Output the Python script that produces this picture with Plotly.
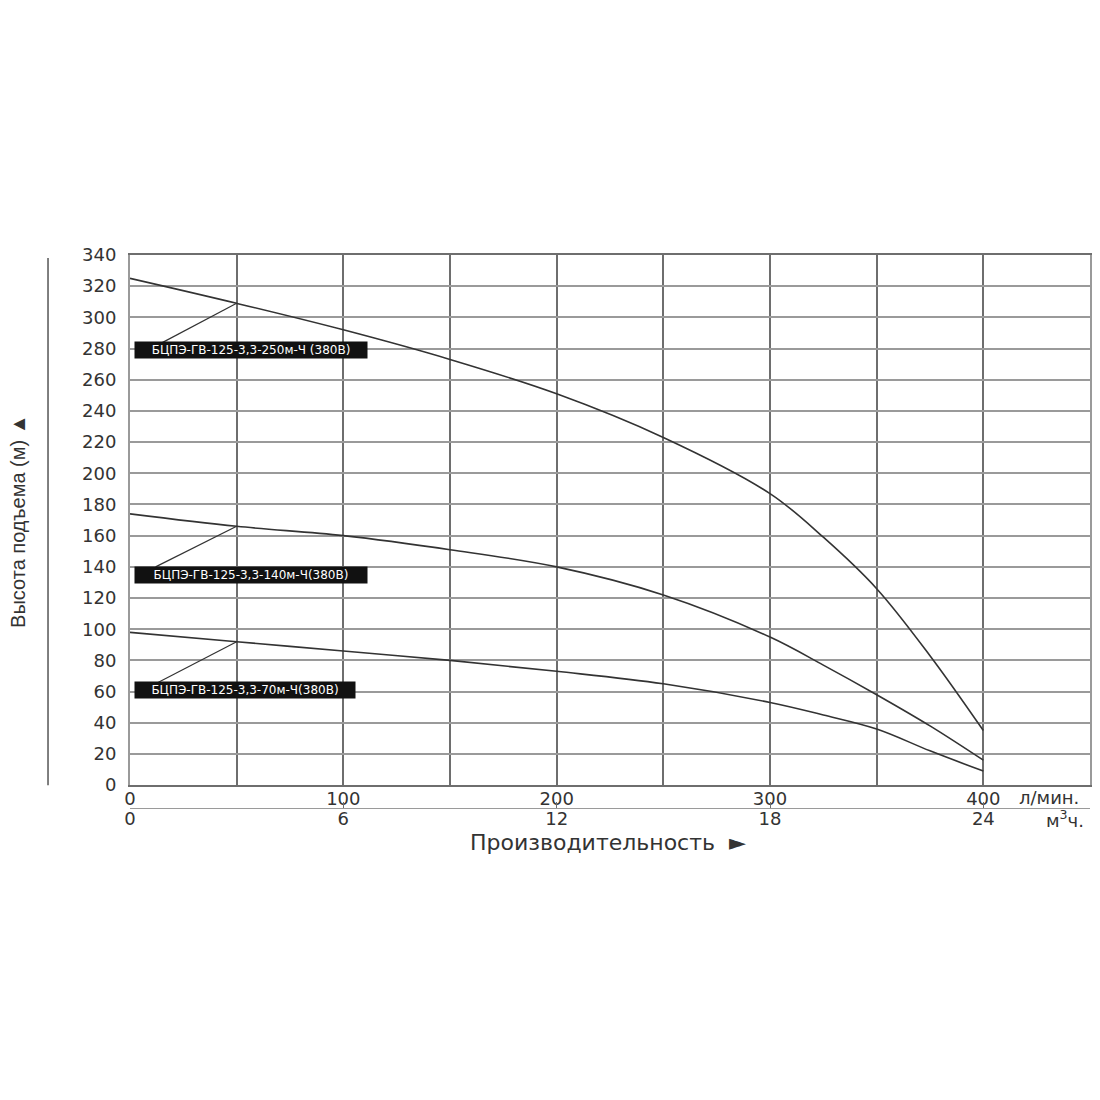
import plotly.graph_objects as go

# flow, l/min
flow = [0, 50, 100, 150, 200, 250, 300, 325, 350, 375, 400]

# head, m
head_250 = [325, 309, 292, 273, 251, 223, 187, 159, 126, 83, 35]
head_140 = [174, 166, 160, 151, 140, 122, 95, 77, 58, 38, 16]
head_70 = [98, 92, 86, 80, 73, 65, 53, 45, 36, 22, 9]

series = [
    ("БЦПЭ-ГВ-125-3,3-250м-Ч (380В)", head_250),
    ("БЦПЭ-ГВ-125-3,3-140м-Ч(380В)", head_140),
    ("БЦПЭ-ГВ-125-3,3-70м-Ч(380В)", head_70),
]

# label boxes: leader start (x, y), box left edge and centre height, box width px
leader_x = [14, 12, 12]
leader_y = [283, 140, 65]
box_x = [2, 2, 2]
box_y = [279, 135, 61]
box_w = [228, 228, 216]

lpm_ticks = [0, 100, 200, 300, 400]
m3h_ticks = [0, 6, 12, 18, 24]

FONT = "DejaVu Sans, Liberation Sans, Arial, sans-serif"
LINE = "#333333"
XGRID = "#6e6e6e"
YGRID = "#9a9a9a"
TXT = "#333333"

fig = go.Figure()

for name, head in series:
    fig.add_trace(go.Scatter(
        x=flow, y=head, mode="lines", name=name,
        line=dict(color=LINE, width=1.6, shape="spline", smoothing=1.0),
        hoverinfo="skip",
    ))

# leader lines from label to the point at 50 l/min
for i, (name, head) in enumerate(series):
    fig.add_trace(go.Scatter(
        x=[leader_x[i], flow[1]], y=[leader_y[i], head[1]],
        mode="lines", line=dict(color=LINE, width=1.2),
        hoverinfo="skip", showlegend=False,
    ))
    fig.add_annotation(
        x=box_x[i], y=box_y[i], xref="x", yref="y",
        text=name, showarrow=False, xanchor="left", yanchor="middle",
        width=box_w[i], height=12, align="center",
        font=dict(family=FONT, size=12, color="white"),
        bgcolor="#111111", borderpad=2,
    )

# second scale in m3/h, only to carry the tick labels
fig.add_trace(go.Scatter(x=[0, 27], y=[0, 0], xaxis="x2", mode="none",
                         hoverinfo="skip", showlegend=False))

# page body adds 8px around the figure, so the figure is 1084 wide
fig.update_layout(
    width=1084, height=1084,
    margin=dict(l=122, r=2, t=247, b=242),
    plot_bgcolor="white", paper_bgcolor="white",
    showlegend=False,
    font=dict(family=FONT, size=18, color=TXT),
    xaxis=dict(
        range=[0, 450], tickmode="array",
        tickvals=lpm_ticks, ticktext=[str(v) for v in lpm_ticks],
        showgrid=True, gridcolor=XGRID, gridwidth=1.8,
        showline=True, linecolor=XGRID, linewidth=1.8, mirror=True,
        ticks="", zeroline=False, tickfont=dict(size=18), automargin=False,
        ticklabelstandoff=-4,
        minor=dict(dtick=50, showgrid=True, gridcolor=XGRID, gridwidth=1.8),
    ),
    xaxis2=dict(
        range=[0, 27], overlaying="x", anchor="free", position=0.0706,
        side="bottom", tickvals=m3h_ticks,
        ticktext=[str(v) for v in m3h_ticks],
        showgrid=False, showline=True, linecolor=YGRID, linewidth=1.2,
        ticks="inside", ticklen=6, tickcolor=XGRID, zeroline=False,
        tickfont=dict(size=18), automargin=False, ticklabelstandoff=-6,
    ),
    yaxis=dict(
        range=[0, 340], dtick=20, domain=[0.109, 1],
        showgrid=True, gridcolor=YGRID, gridwidth=2,
        showline=True, linecolor=YGRID, linewidth=2, mirror=True,
        ticks="outside", ticklen=8, tickcolor="rgba(0,0,0,0)",
        zeroline=False, tickfont=dict(size=18), automargin=False,
    ),
)

fig.add_annotation(x=0.924, y=0.089, xref="paper", yref="paper",
                   text="л/мин.", showarrow=False,
                   xanchor="left", yanchor="middle",
                   font=dict(size=18, color=TXT))
fig.add_annotation(x=0.952, y=0.052, xref="paper", yref="paper",
                   text="м<sup>3</sup>ч.", showarrow=False,
                   xanchor="left", yanchor="middle",
                   font=dict(size=18, color=TXT))
fig.add_annotation(x=0.498, y=0.013, xref="paper", yref="paper",
                   text="Производительность  ►", showarrow=False,
                   xanchor="center", yanchor="middle",
                   font=dict(size=22, color=TXT))
fig.add_annotation(x=-0.1167, y=0.553, xref="paper", yref="paper",
                   text="Высота подъема (м) ▲", showarrow=False,
                   textangle=-90, xanchor="center", yanchor="middle",
                   font=dict(family="Liberation Sans, Arial, sans-serif",
                             size=20, color=TXT))

# thin line left of the height scale
fig.add_shape(type="line", xref="paper", yref="paper",
              x0=-0.0854, x1=-0.0854, y0=0.109, y1=0.995,
              line=dict(color="#555", width=1.5))

fig.write_html("out.html")
